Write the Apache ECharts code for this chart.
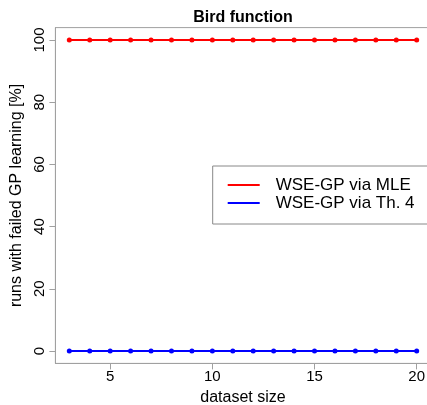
<!DOCTYPE html>
<html><head><meta charset="utf-8">
<script src="https://cdn.jsdelivr.net/npm/echarts@6/dist/echarts.min.js"></script>
<style>html,body{margin:0;padding:0;background:#fff}#c{width:427px;height:405px}</style>
</head><body><div id="c"></div>
<script>
const datasetSizes = [3,4,5,6,7,8,9,10,11,12,13,14,15,16,17,18,19,20];
const mleFailed = [100,100,100,100,100,100,100,100,100,100,100,100,100,100,100,100,100,100];
const th4Failed = [0,0,0,0,0,0,0,0,0,0,0,0,0,0,0,0,0,0];
const xTicks = [5,10,15,20];
const yTicks = [0,20,40,60,80,100];
const seriesNames = ['WSE-GP via MLE','WSE-GP via Th. 4'];

const FONT = '"Liberation Sans", Arial, sans-serif';
const AX = '#a0a0a0';
const chart = echarts.init(document.getElementById('c'), null, {renderer:'canvas'});
chart.setOption({
  animation:false,
  backgroundColor:'#fff',
  title:{text:'Bird function', left:243, textAlign:'center', top:10, padding:0,
    textStyle:{fontFamily:FONT, fontWeight:'bold', fontSize:16, color:'#000'}},
  grid:{left:55.4, top:27.6, width:375.2, height:335.8, show:true, borderColor:AX, borderWidth:1,
    backgroundColor:'transparent', containLabel:false, outerBoundsMode:'none'},
  legend:{orient:'vertical', left:212.7, top:166, padding:[10,13,12,15],
    icon:'path://M0,0H32V2H0Z M43,0L43,2', itemWidth:43, itemHeight:2, itemGap:0,
    borderColor:'#888', borderWidth:1, backgroundColor:'#fff',
    textStyle:{fontFamily:FONT, fontSize:17, color:'#000', lineHeight:18, padding:[0,0,0,0]},
    data:seriesNames},
  xAxis:{type:'value', min:2.32, max:20.68,
    name:'dataset size', nameLocation:'middle', nameGap:24,
    nameTextStyle:{fontFamily:FONT, fontSize:16, color:'#000'},
    axisLine:{show:true, onZero:false, lineStyle:{color:AX, width:1}},
    axisTick:{show:true, inside:false, length:6, lineStyle:{color:AX}, customValues:xTicks},
    axisLabel:{fontFamily:FONT, fontSize:15, color:'#000', margin:6, customValues:xTicks},
    minorTick:{show:false}, splitLine:{show:false}},
  yAxis:{type:'value', min:-4, max:104,
    name:'runs with failed GP learning [%]', nameLocation:'middle', nameGap:31,
    nameTextStyle:{fontFamily:FONT, fontSize:16, color:'#000'},
    axisLine:{show:true, onZero:false, lineStyle:{color:AX, width:1}},
    axisTick:{show:true, inside:false, length:6, lineStyle:{color:AX}, customValues:yTicks},
    axisLabel:{fontFamily:FONT, fontSize:15, color:'#000', margin:8, rotate:90, customValues:yTicks},
    minorTick:{show:false}, splitLine:{show:false}},
  series:[
    {name:seriesNames[0], type:'line', data:datasetSizes.map((x,i)=>[x,mleFailed[i]]),
      symbol:'circle', symbolSize:5, color:'#ff0000', lineStyle:{width:2, color:'#ff0000'}, itemStyle:{color:'#ff0000'}},
    {name:seriesNames[1], type:'line', data:datasetSizes.map((x,i)=>[x,th4Failed[i]]),
      symbol:'circle', symbolSize:5, color:'#0000ff', lineStyle:{width:2, color:'#0000ff'}, itemStyle:{color:'#0000ff'}}
  ]
});
</script></body></html>
